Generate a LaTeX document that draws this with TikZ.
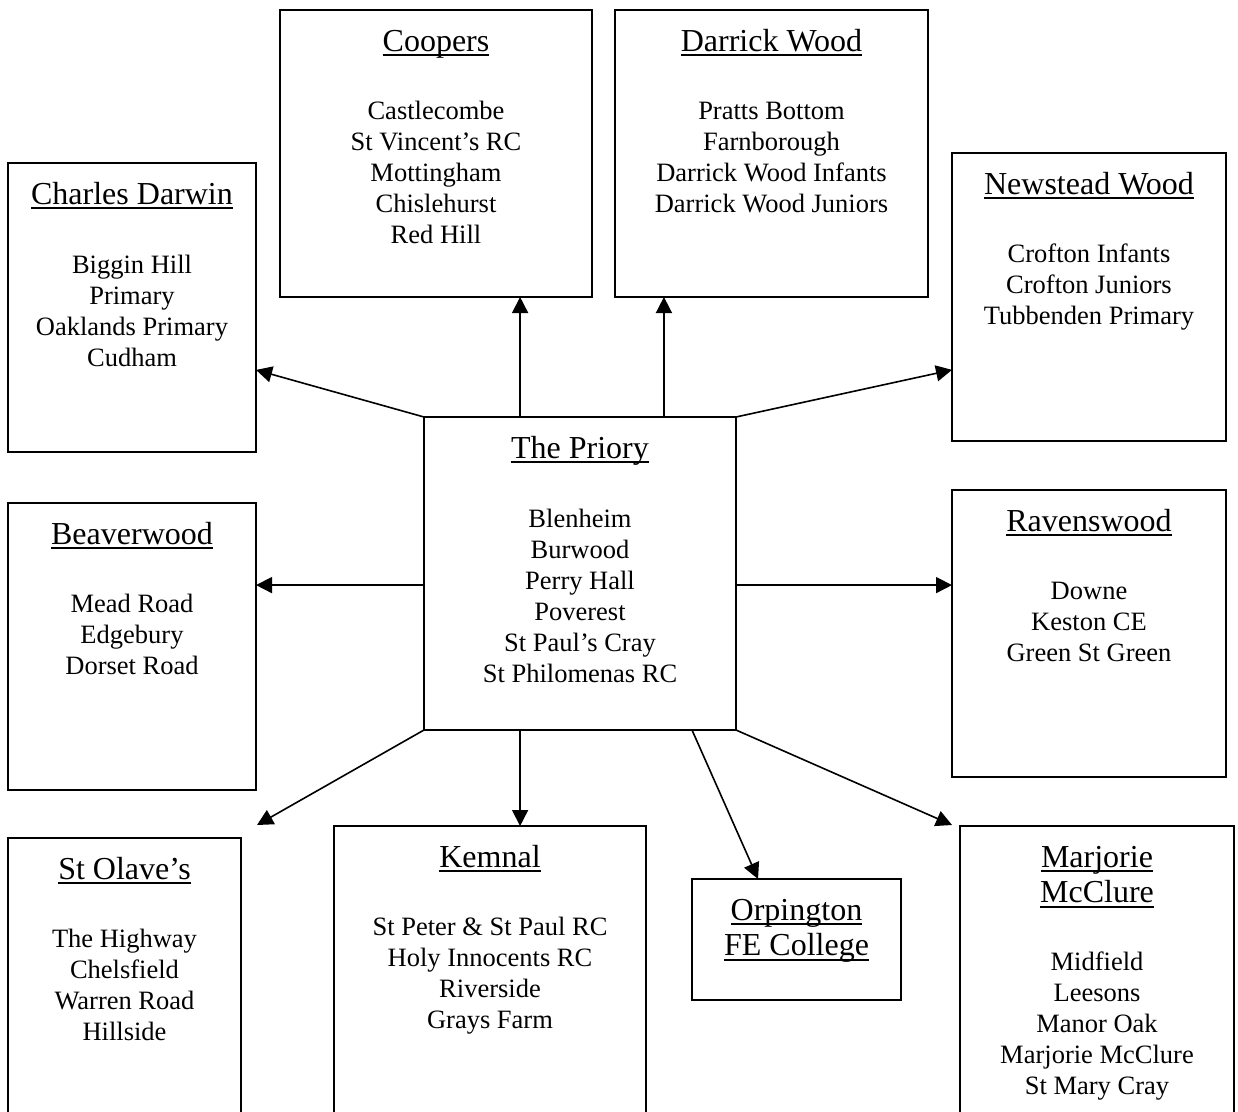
\documentclass[tikz,border=0pt]{standalone}
\usepackage{fontspec}
\setmainfont{Liberation Serif}
\usetikzlibrary{arrows.meta,calc}
\newcommand\bodyfont{\fontsize{26.5}{31}\selectfont}
\newcommand\titlefont{\fontsize{32}{35.5}\selectfont}
\newcommand\tstrut{\rule{0pt}{29pt}}
\newcommand\bstrut{\rule{0pt}{24pt}}
\newcommand\myul[1]{\setbox0\hbox{#1}\rlap{\rule[-4.8pt]{\wd0}{1.6pt}}\box0}
\tikzset{
  boxline/.style={line width=1.6pt},
  box/.style={boxline, draw, inner sep=0pt, outer sep=0pt, anchor=north west},
  openbox/.style={inner sep=0pt, outer sep=0pt, anchor=north west},
  ttl/.style={anchor=north, inner sep=0pt, align=center, font=\titlefont},
  bdy/.style={anchor=north, inner sep=0pt, align=center, font=\bodyfont},
  arr/.style={line width=1.6pt, -{Triangle[length=16pt,width=16pt]}}
}
\begin{document}
\begin{tikzpicture}[x=1pt,y=-1pt]
\useasboundingbox (0,0) rectangle (1238,1111);
% boxes
\node[box, minimum width=312pt, minimum height=287pt] (coop) at (280,10) {};
\node[box, minimum width=313pt, minimum height=287pt] (dar) at (615,10) {};
\node[box, minimum width=248pt, minimum height=289pt] (cd) at (8,163) {};
\node[box, minimum width=274pt, minimum height=288pt] (nw) at (952,153) {};
\node[box, minimum width=312pt, minimum height=313pt] (pri) at (424,417) {};
\node[box, minimum width=248pt, minimum height=287pt] (bw) at (8,503) {};
\node[box, minimum width=274pt, minimum height=287pt] (rv) at (952,490) {};
\node[box, minimum width=209pt, minimum height=121pt] (orp) at (692,879) {};
\node[openbox, minimum width=233pt, minimum height=280pt] (olv) at (8,838) {};
\node[openbox, minimum width=312pt, minimum height=292pt] (kem) at (334,826) {};
\node[openbox, minimum width=274pt, minimum height=292pt] (mm) at (960,826) {};
\draw[boxline] (olv.south west) |- (olv.north east) -- (olv.south east);
\draw[boxline] (kem.south west) |- (kem.north east) -- (kem.south east);
\draw[boxline] (mm.south west) |- (mm.north east) -- (mm.south east);
% titles (baseline = top + 41)
\node[ttl] (coop-t) at (436,22) {\tstrut\myul{Coopers}};
\node[ttl] (dar-t) at (771.5,22) {\tstrut\myul{Darrick Wood}};
\node[ttl] (cd-t) at (132,175) {\tstrut\myul{Charles Darwin}};
\node[ttl] (nw-t) at (1089,165) {\tstrut\myul{Newstead Wood}};
\node[ttl] (pri-t) at (580,429) {\tstrut\myul{The Priory}};
\node[ttl] (bw-t) at (132,515) {\tstrut\myul{Beaverwood}};
\node[ttl] (rv-t) at (1089,502) {\tstrut\myul{Ravenswood}};
\node[ttl] (olv-t) at (124.5,850) {\tstrut\myul{St Olave’s}};
\node[ttl] (kem-t) at (490,838) {\tstrut\myul{Kemnal}};
\node[ttl] (orp-t) at (796.5,891) {\tstrut\myul{Orpington}\\\myul{FE College}};
\node[ttl] (mm-t) at (1097,838) {\tstrut\myul{Marjorie}\\\myul{McClure}};
% bodies (first baseline = top + 109)
\node[bdy] (coop-b) at (436,95) {\bstrut Castlecombe\\St Vincent’s RC\\Mottingham\\Chislehurst\\Red Hill};
\node[bdy] (dar-b) at (771.5,95) {\bstrut Pratts Bottom\\Farnborough\\Darrick Wood Infants\\Darrick Wood Juniors};
\node[bdy] (cd-b) at (132,249) {\bstrut Biggin Hill\\Primary\\Oaklands Primary\\Cudham};
\node[bdy] (nw-b) at (1089,238) {\bstrut Crofton Infants\\Crofton Juniors\\Tubbenden Primary};
\node[bdy] (pri-b) at (580,503) {\bstrut Blenheim\\Burwood\\Perry Hall\\Poverest\\St Paul’s Cray\\St Philomenas RC};
\node[bdy] (bw-b) at (132,588) {\bstrut Mead Road\\Edgebury\\Dorset Road};
\node[bdy] (rv-b) at (1089,575) {\bstrut Downe\\Keston CE\\Green St Green};
\node[bdy] (olv-b) at (124.5,923) {\bstrut The Highway\\Chelsfield\\Warren Road\\Hillside};
\node[bdy] (kem-b) at (490,911) {\bstrut St Peter \& St Paul RC\\Holy Innocents RC\\Riverside\\Grays Farm};
\node[bdy] (mm-b) at (1097,946) {\bstrut Midfield\\Leesons\\Manor Oak\\Marjorie McClure\\St Mary Cray};
% connector points
\coordinate (pri-a) at ($(pri.north west)!0.308!(pri.north east)$);
\coordinate (pri-bb) at ($(pri.north west)!0.769!(pri.north east)$);
\coordinate (pri-l) at ($(pri.north west)!0.537!(pri.south west)$);
\coordinate (pri-r) at ($(pri.north east)!0.537!(pri.south east)$);
\coordinate (pri-c) at ($(pri.south west)!0.308!(pri.south east)$);
\coordinate (pri-d) at ($(pri.south west)!0.859!(pri.south east)$);
\coordinate (cd-in) at ($(cd.north east)!0.716!(cd.south east)$);
\coordinate (nw-in) at ($(nw.north west)!0.753!(nw.south west)$);
\coordinate (orp-in) at ($(orp.north west)!0.316!(orp.north east)$);
\coordinate (olv-end) at (257,825);
\coordinate (mm-end) at (952,825);
% connectors
\draw[arr] (pri.north west) -- (cd-in);
\draw[arr] (pri-a) -- (pri-a |- coop.south);
\draw[arr] (pri-bb) -- (pri-bb |- dar.south);
\draw[arr] (pri.north east) -- (nw-in);
\draw[arr] (pri-l) -- (pri-l -| bw.east);
\draw[arr] (pri-r) -- (pri-r -| rv.west);
\draw[arr] (pri.south west) -- (olv-end);
\draw[arr] (pri-c) -- (pri-c |- kem.north);
\draw[arr] (pri-d) -- (orp-in);
\draw[arr] (pri.south east) -- (mm-end);
\end{tikzpicture}
\end{document}
